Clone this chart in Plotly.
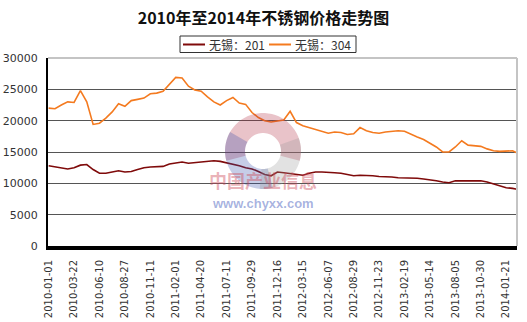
import numpy as np
import plotly.graph_objects as go

dates = [
    "2010-01-01", "2010-01-21", "2010-02-10", "2010-03-02", "2010-03-22", "2010-04-11", "2010-05-01", "2010-05-21",
    "2010-06-10", "2010-06-29", "2010-07-18", "2010-08-07", "2010-08-27", "2010-09-15", "2010-10-04", "2010-10-23",
    "2010-11-11", "2010-12-02", "2010-12-23", "2011-01-12", "2011-02-01", "2011-02-20", "2011-03-11", "2011-03-31",
    "2011-04-20", "2011-05-10", "2011-06-01", "2011-06-21", "2011-07-11", "2011-07-31", "2011-08-19", "2011-09-09",
    "2011-09-29", "2011-10-19", "2011-11-08", "2011-11-27", "2011-12-16", "2012-01-09", "2012-02-01", "2012-02-22",
    "2012-03-15", "2012-04-05", "2012-04-26", "2012-05-17", "2012-06-07", "2012-06-28", "2012-07-19", "2012-08-08",
    "2012-08-29", "2012-09-19", "2012-10-12", "2012-11-01", "2012-11-23", "2012-12-14", "2013-01-07", "2013-01-29",
    "2013-02-19", "2013-03-12", "2013-04-02", "2013-04-23", "2013-05-14", "2013-06-04", "2013-06-26", "2013-07-16",
    "2013-08-05", "2013-08-26", "2013-09-17", "2013-10-09", "2013-10-30", "2013-11-20", "2013-12-10", "2013-12-31",
    "2014-01-21", "2014-02-11", "2014-03-04",
]

wuxi_201 = [
    12800, 12600, 12400, 12300, 12500, 12900, 13000, 12200,
    11600, 11600, 11800, 12000, 11800, 11900, 12200, 12500,
    12600, 12600, 12700, 13100, 13300, 13400, 13200, 13300,
    13500, 13600, 13600, 13500, 13300, 13000, 12800, 12500,
    12300, 11900, 11400, 11200, 11800, 11700, 11600, 11400,
    11300, 11600, 11800, 11800, 11800, 11700, 11600, 11400,
    11200, 11300, 11300, 11200, 11100, 11100, 11000, 10900,
    10900, 10800, 10800, 10700, 10600, 10400, 10200, 10100,
    10400, 10400, 10400, 10400, 10400, 10200, 9900, 9600,
    9300, 9200, 9000,
]

wuxi_304 = [
    22000, 21900, 22500, 23000, 22900, 24800, 23000, 19400,
    19600, 20400, 21400, 22700, 22300, 23200, 23400, 23600,
    24300, 24400, 24700, 25800, 26900, 26800, 25500, 24900,
    24700, 23800, 23000, 22500, 23200, 23700, 22800, 22600,
    21300, 20500, 20000, 19800, 19900, 20100, 21500, 19700,
    19200, 18900, 18600, 18300, 18000, 18200, 18100, 17800,
    17900, 18900, 18400, 18100, 18000, 18200, 18300, 18400,
    18300, 17800, 17400, 17000, 16400, 15800, 15000, 15000,
    15800, 16800, 16100, 16000, 15900, 15500, 15200, 15100,
    15100, 15200, 14700,
]

tick_labels = [
    "2010-01-01", "2010-03-22", "2010-06-10", "2010-08-27", "2010-11-11", "2011-02-01", "2011-04-20",
    "2011-07-11", "2011-09-29", "2011-12-16", "2012-03-15", "2012-06-07", "2012-08-29", "2012-11-23",
    "2013-02-19", "2013-05-14", "2013-08-05", "2013-10-30", "2014-01-21",
]
y_ticks = [0, 5000, 10000, 15000, 20000, 25000, 30000]
series_names = ["无锡：201", "无锡：304"]
series_colors = ["#7f0a0a", "#f47a1f"]

W, H = 527, 322
ML, MR, MT, MB = 48, 10, 58, 76
PW, PH = W - ML - MR, H - MT - MB


def px_to_paper(px, py):
    return (px - ML) / PW, (H - MB - py) / PH


fig = go.Figure()
for name, vals, col in zip(series_names, [wuxi_201, wuxi_304], series_colors):
    fig.add_trace(go.Scatter(x=dates, y=vals, name=name, mode="lines",
                             line=dict(color=col, width=1.6), showlegend=False))

shapes = []
ann = []

# watermark logo (decorative ring)
cx, cy, r_out, r_in = 263, 151, 38, 18


def ring_path(a0, a1):
    a = np.radians(np.linspace(a0, a1, 40))
    outer = [px_to_paper(cx + r_out * np.cos(t), cy - r_out * np.sin(t)) for t in a]
    inner = [px_to_paper(cx + r_in * np.cos(t), cy - r_in * np.sin(t)) for t in a[::-1]]
    pts = outer + inner
    return "M " + " L ".join(f"{x:.4f},{y:.4f}" for x, y in pts) + " Z"


for (a0, a1, col) in [(-15, 195, "rgba(176,40,60,0.28)"),
                      (150, 285, "rgba(50,75,170,0.28)"),
                      (-95, 20, "rgba(150,150,150,0.28)")]:
    shapes.append(dict(type="path", xref="paper", yref="paper", path=ring_path(a0, a1),
                       fillcolor=col, line=dict(width=0), layer="above"))

# light plot border (top and right)
shapes.append(dict(type="line", xref="paper", yref="paper", x0=0, x1=1, y0=1, y1=1,
                   line=dict(color="#c4c4c4", width=2)))
shapes.append(dict(type="line", xref="paper", yref="paper", x0=1, x1=1, y0=0, y1=1,
                   line=dict(color="#c4c4c4", width=2)))

# legend box (drawn)
bx0, by0 = px_to_paper(180, 36)
bx1, by1 = px_to_paper(356, 52.5)
shapes.append(dict(type="rect", xref="paper", yref="paper", x0=bx0, x1=bx1, y0=by0, y1=by1,
                   line=dict(color="#333", width=1), fillcolor="white"))
for name, col, lx in zip(series_names, series_colors, [183, 269]):
    lx0, ly = px_to_paper(lx, 44.5)
    lx1, _ = px_to_paper(lx + 22, 44.5)
    shapes.append(dict(type="line", xref="paper", yref="paper", x0=lx0, x1=lx1, y0=ly, y1=ly,
                       line=dict(color=col, width=2)))
    tx, ty = px_to_paper(lx + 24, 44.5)
    ann.append(dict(text=name, x=tx, y=ty, xref="paper", yref="paper", xanchor="left", yanchor="middle",
                    showarrow=False, font=dict(family="Noto Sans CJK SC", size=12, color="#333")))

ann += [
    dict(text="<b>中国产业信息</b>", x=px_to_paper(263, 195)[0], y=px_to_paper(263, 195)[1], xref="paper",
         yref="paper", showarrow=False,
         font=dict(family="Noto Sans CJK SC", size=18, color="rgba(205,70,85,0.42)")),
    dict(text="<b>www.chyxx.com</b>", x=px_to_paper(263, 213)[0], y=px_to_paper(263, 213)[1], xref="paper",
         yref="paper", showarrow=False,
         font=dict(family="Liberation Sans", size=13, color="rgba(60,85,185,0.45)")),
]

fig.update_layout(
    width=W, height=H,
    margin=dict(l=ML, r=MR, t=MT, b=MB, autoexpand=False),
    paper_bgcolor="white", plot_bgcolor="white",
    title=dict(text="<b>2010年至2014年不锈钢价格走势图</b>", x=0.5, xanchor="center", y=1 - 18 / H,
               yanchor="middle", font=dict(family="Noto Sans CJK SC", size=16, color="#111")),
    xaxis=dict(type="category", range=[-0.1, 73.7], tickmode="array", tickvals=tick_labels,
               ticktext=tick_labels, tickangle=-90, showgrid=False, showline=True,
               linecolor="black", linewidth=4, ticks="", ticklabelstandoff=6, automargin=False,
               tickfont=dict(family="DejaVu Sans", size=10, color="#333"), zeroline=False),
    yaxis=dict(range=[0, 30000], tickmode="array", tickvals=y_ticks, ticktext=[str(v) for v in y_ticks],
               showgrid=True, gridcolor="#555555", gridwidth=1, showline=True, linecolor="black",
               linewidth=2, ticks="", ticklabelstandoff=6, zeroline=False, automargin=False,
               tickfont=dict(family="DejaVu Sans", size=11, color="#333")),
    shapes=shapes,
    annotations=ann,
    showlegend=False,
)

fig.write_html("out.html")
